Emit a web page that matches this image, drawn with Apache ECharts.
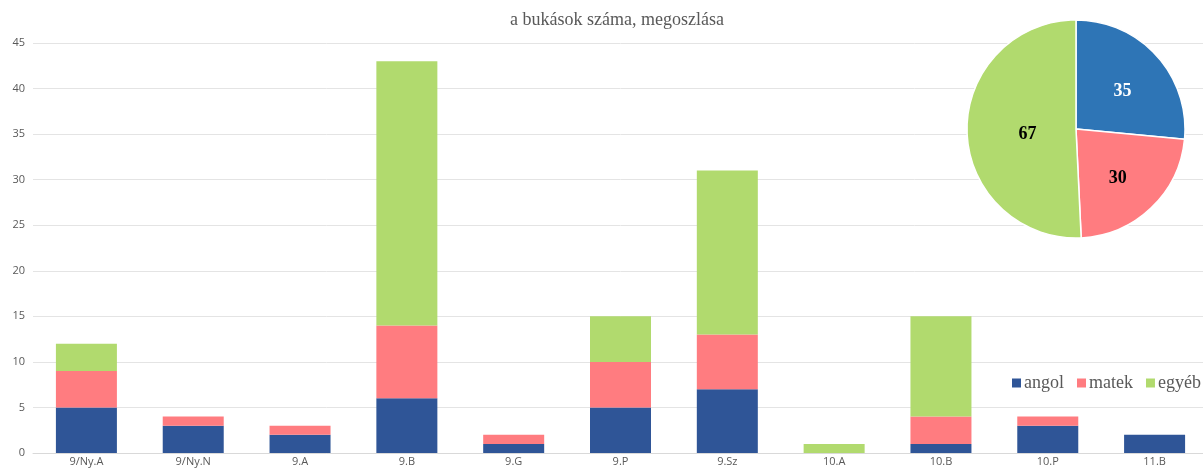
<!DOCTYPE html>
<html>
<head>
<meta charset="utf-8">
<script src="https://cdn.jsdelivr.net/npm/echarts@6/dist/echarts.min.js"></script>
<style>
  html, body { margin: 0; padding: 0; background: #fff; overflow: hidden; }
  #chart { width: 1210px; height: 472px; }
</style>
</head>
<body>
<div id="chart"></div>
<script>
const classes = ['9/Ny.A', '9/Ny.N', '9.A', '9.B', '9.G', '9.P', '9.Sz', '10.A', '10.B', '10.P', '11.B']
const angol = [5, 3, 2, 6, 1, 5, 7, 0, 1, 3, 2]
const matek = [4, 1, 1, 8, 1, 5, 6, 0, 3, 1, 0]
const egyeb = [3, 0, 0, 29, 0, 5, 18, 1, 11, 0, 0]
const totals = [
    { name: 'angol', value: 35 },
    { name: 'matek', value: 30 },
    { name: 'egyéb', value: 67 }
]

const BAR_COLORS = { angol: '#2F5597', matek: '#FF7C80', 'egyéb': '#B1DA6E' }
const PIE_COLORS = { angol: '#2E75B6', matek: '#FF7C80', 'egyéb': '#B1DA6E' }
const PIE_LABEL = { angol: '#ffffff', matek: '#000000', 'egyéb': '#000000' }
// small nudges so the pie numbers sit where the original has them
const PIE_NUDGE = [[4, 1], [2, 8], [9, 4]]

const barSeries = (name, data) => ({
    name,
    type: 'bar',
    stack: 'total',
    barWidth: 61,
    data,
    itemStyle: { color: BAR_COLORS[name] }
})

const chart = echarts.init(document.getElementById('chart'))
chart.setOption({
    animation: false,
    title: {
        text: 'a bukások száma, megoszlása',
        left: 505,
        top: 6,
        textStyle: { fontFamily: 'Liberation Serif', fontSize: 18, fontWeight: 'normal', color: '#595959' }
    },
    legend: {
        data: ['angol', 'matek', 'egyéb'],
        left: 1007,
        top: 369,
        itemWidth: 9,
        itemHeight: 9,
        itemGap: 13,
        icon: 'rect',
        textStyle: { fontFamily: 'Liberation Serif', fontSize: 18, color: '#595959', padding: [0, 0, 0, -2] }
    },
    grid: { left: 33, top: 43, width: 1175, height: 410, containLabel: false },
    xAxis: {
        type: 'category',
        data: classes,
        axisTick: { show: false },
        axisLine: { lineStyle: { color: '#d9d9d9' } },
        axisLabel: { fontFamily: 'Open Sans', fontSize: 11, color: '#595959', margin: 3 }
    },
    yAxis: {
        type: 'value',
        min: 0,
        max: 45,
        interval: 5,
        splitLine: { lineStyle: { color: '#e4e4e4' } },
        axisLabel: { fontFamily: 'Open Sans', fontSize: 11, color: '#595959', margin: 8 }
    },
    series: [
        barSeries('angol', angol),
        barSeries('matek', matek),
        barSeries('egyéb', egyeb),
        {
            name: 'megoszlás',
            type: 'pie',
            center: [1076, 129],
            radius: 109,
            startAngle: 90,
            clockwise: true,
            data: totals.map(t => ({
                name: t.name,
                value: t.value,
                itemStyle: { color: PIE_COLORS[t.name] },
                label: { color: PIE_LABEL[t.name] }
            })),
            itemStyle: { borderColor: '#fff', borderWidth: 1.5 },
            label: {
                show: true,
                position: 'inside',
                formatter: '{c}',
                fontFamily: 'Liberation Serif',
                fontSize: 18,
                fontWeight: 'bold'
            },
            labelLayout: (params) => ({ dx: PIE_NUDGE[params.dataIndex][0], dy: PIE_NUDGE[params.dataIndex][1] }),
            labelLine: { show: false }
        }
    ]
})
</script>
</body>
</html>
